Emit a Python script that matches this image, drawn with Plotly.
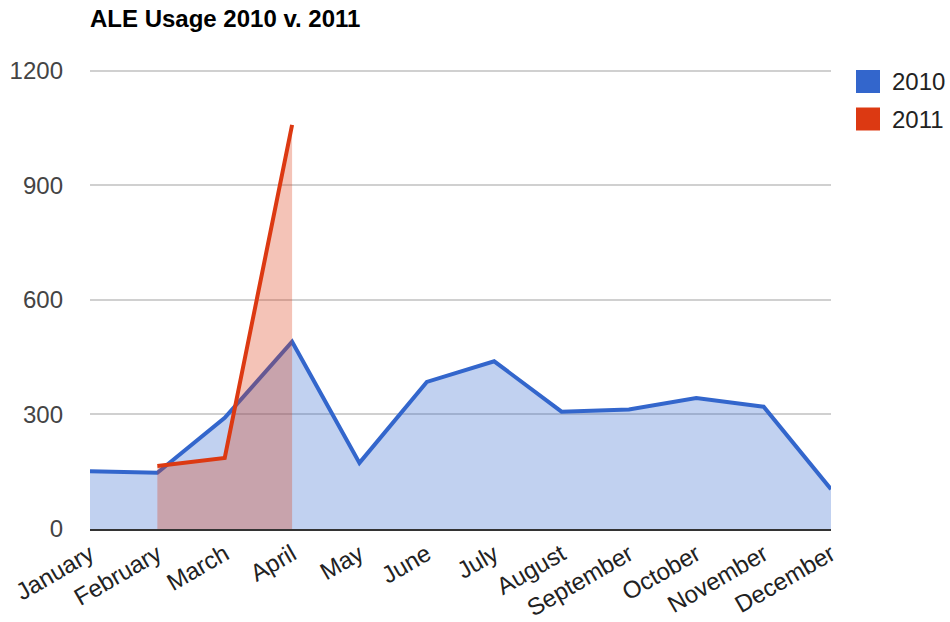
import plotly.graph_objects as go

months = ["January", "February", "March", "April", "May", "June", "July",
          "August", "September", "October", "November", "December"]
usage_2010 = [151, 147, 291, 490, 173, 385, 439, 307, 313, 343, 320, 104]
months_2011 = ["February", "March", "April"]
usage_2011 = [165, 186, 1058]
y_ticks = [0, 300, 600, 900, 1200]

blue = "#3366cc"
red = "#dc3912"
font_family = "Liberation Sans, Arial, sans-serif"

fig = go.Figure()
fig.add_trace(go.Scatter(x=months, y=usage_2010, mode="lines", name="2010",
                         line=dict(color=blue, width=4),
                         fill="tozeroy", fillcolor="rgba(51,102,204,0.30)",
                         showlegend=False, hoverinfo="x+y+name"))
fig.add_trace(go.Scatter(x=months_2011, y=usage_2011, mode="lines", name="2011",
                         line=dict(color=red, width=4),
                         fill="tozeroy", fillcolor="rgba(220,57,18,0.30)",
                         showlegend=False, hoverinfo="x+y+name"))

# plot area in pixels
PL, PR, PT, PB = 90, 831, 69, 529
PW, PH = PR - PL, PB - PT

# Legend drawn as swatches + labels (paper coordinates)
legend_items = [("2010", blue), ("2011", red)]
shapes = []
annotations = []
for i, (label, col) in enumerate(legend_items):
    y0 = 70 + i * 37.5
    shapes.append(dict(type="rect", xref="paper", yref="paper",
                       x0=(856 - PL) / PW, x1=(880 - PL) / PW,
                       y0=(PB - (y0 + 23)) / PH, y1=(PB - y0) / PH,
                       fillcolor=col, line=dict(width=0)))
    annotations.append(dict(text=label, xref="paper", yref="paper",
                            x=(890 - PL) / PW, y=(PB - (y0 + 11.5)) / PH,
                            xanchor="left", yanchor="middle", showarrow=False,
                            font=dict(family=font_family, size=24, color="#222")))

fig.update_layout(
    width=950, height=622,
    margin=dict(l=PL, r=950 - PR, t=PT, b=622 - PB, pad=0, autoexpand=False),
    paper_bgcolor="white", plot_bgcolor="white",
    title=dict(text="<b>ALE Usage 2010 v. 2011</b>", x=PL / 950, xanchor="left",
               y=1 - 19 / 622, yanchor="middle",
               font=dict(family=font_family, size=24, color="#000")),
    font=dict(family=font_family),
    shapes=shapes, annotations=annotations,
    showlegend=False,
    xaxis=dict(type="category", categoryorder="array", categoryarray=months,
               range=[0, 11], tickangle=-30, showgrid=False, automargin=False,
               tickfont=dict(size=24, color="#222"),
               showline=True, linecolor="#333", linewidth=2, layer="above traces",
               ticks="", fixedrange=True),
    yaxis=dict(range=[0, 1204], tickvals=y_ticks, showgrid=True, automargin=False,
               gridcolor="#d0d0d0", gridwidth=1.5, zeroline=False,
               tickfont=dict(size=24, color="#444"),
               ticklabelstandoff=26, ticks="", fixedrange=True),
)

fig.write_html("out.html", config={"displayModeBar": False},
               post_script="document.body.style.margin='0';document.body.style.overflow='hidden';")
